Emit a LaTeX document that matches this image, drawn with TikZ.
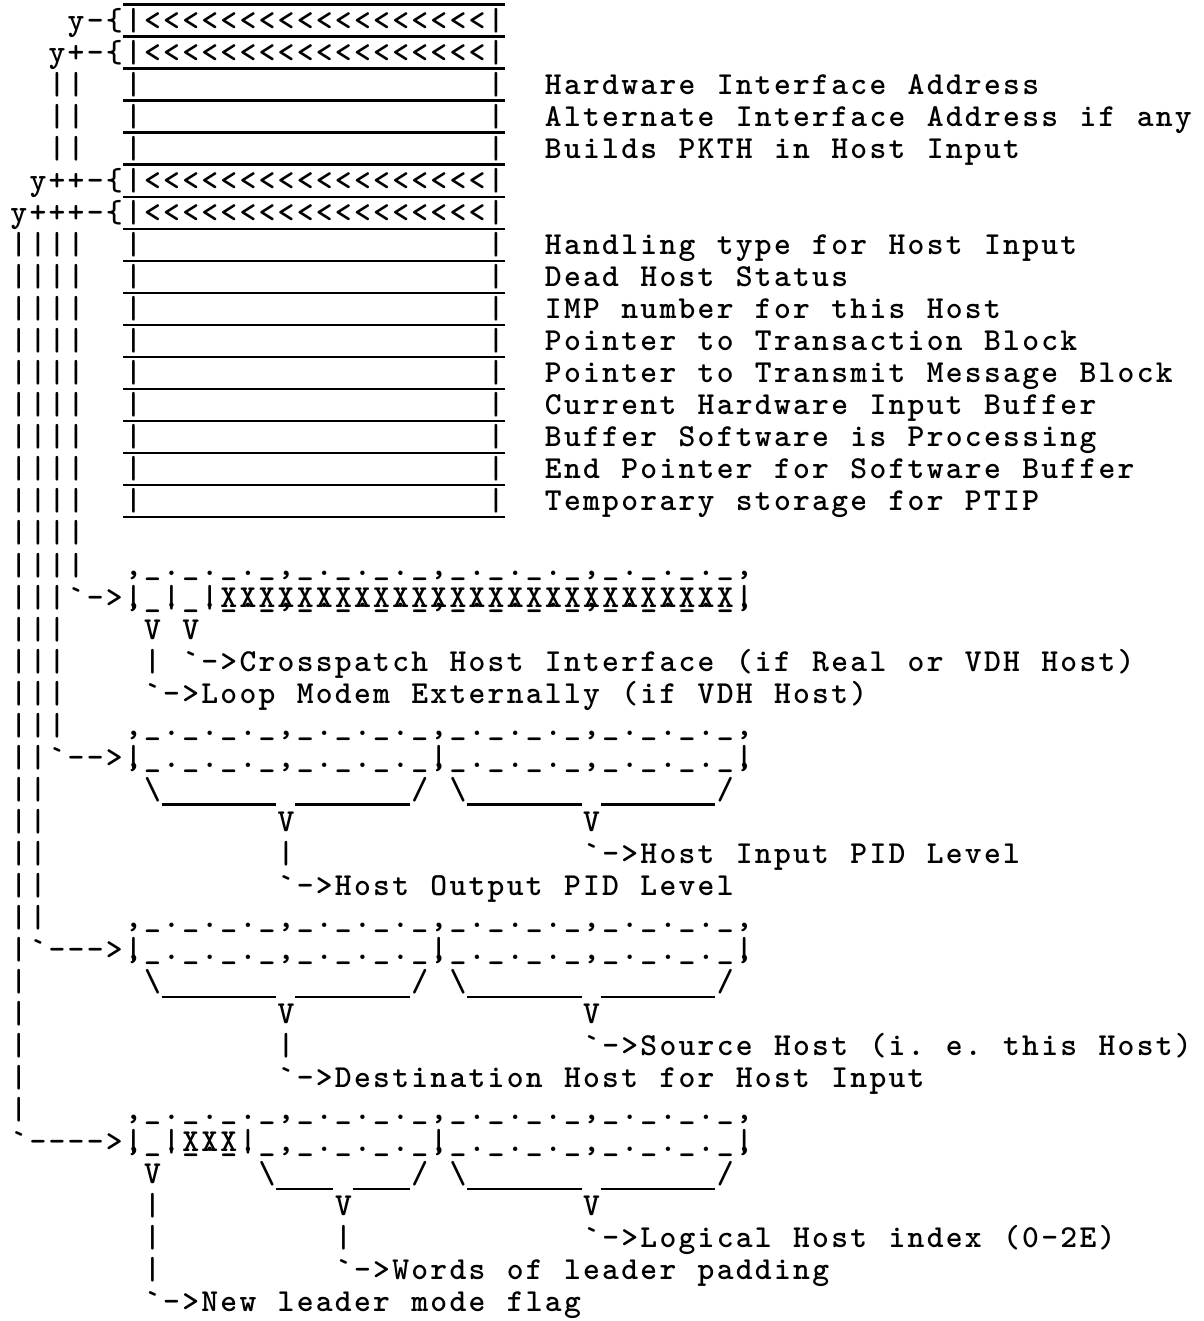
\documentclass[tikz,border=0pt]{standalone}
\usepackage{tikz}

\newlength\typedpitch
\setlength\typedpitch{9.545pt}
\newcommand\typefont{\fontsize{16}{18}\selectfont\ttfamily\bfseries}

% one character per typewriter cell; placeholders for overstruck cells
\ExplSyntaxOn
\cs_new_protected:Npn \typed_glyph:n #1
  {
    \str_case:nnF {#1}
      {
        { ! } { \textbraceleft }
        { ^ } { \textbackslash }
        { ? } { \rlap{|} , }
        { : } { \rlap{|} . }
        { = } { \rlap{\textunderscore} X }
        { ; } { \rlap{.} X }
        { " } { \rlap{,} X }
      }
      { #1 }
  }
\NewDocumentCommand \typed { m }
  {
    \str_map_inline:nn {#1}
      { \makebox [ \typedpitch ] [ c ] { \typed_glyph:n {##1} } }
  }
\ExplSyntaxOff

\begin{document}
\begin{tikzpicture}[x=\typedpitch,y=-16.015pt,
  typed/.style={anchor=base west,inner sep=0pt,xshift=-0.5\typedpitch,font=\typefont},
  underrule/.style={line width=1.2pt}]
  \path[fill=white] (0.033,-0.952) rectangle (63.1,40.29);
  \useasboundingbox (0.033,-0.952) rectangle (63.1,40.29);
  % register block
  \foreach \r in {-1,...,15} \draw[underrule] (6.5,\r+0.19) -- (26.5,\r+0.19);
  \foreach \r in {0,...,15} {
    \node[typed] (bl\r) at (7,\r) {\typed{|}};
    \node[typed] (br\r) at (26,\r) {\typed{|}};
  }
  \foreach \r in {0,1,5,6} \node[typed] (lt\r) at (8,\r) {\typed{<<<<<<<<<<<<<<<<<<}};
  \node[typed] (ym) at (4,0) {\typed{y-!}};
  \node[typed] (ypm) at (3,1) {\typed{y+-!}};
  \node[typed] (yppm) at (2,5) {\typed{y++-!}};
  \node[typed] (ypppm) at (1,6) {\typed{y+++-!}};
  \node[typed] (hwaddr) at (29,2) {\typed{Hardware Interface Address}};
  \node[typed] (altaddr) at (29,3) {\typed{Alternate Interface Address if any}};
  \node[typed] (pkth) at (29,4) {\typed{Builds PKTH in Host Input}};
  \node[typed] (htype) at (29,7) {\typed{Handling type for Host Input}};
  \node[typed] (dead) at (29,8) {\typed{Dead Host Status}};
  \node[typed] (imp) at (29,9) {\typed{IMP number for this Host}};
  \node[typed] (trblk) at (29,10) {\typed{Pointer to Transaction Block}};
  \node[typed] (tmblk) at (29,11) {\typed{Pointer to Transmit Message Block}};
  \node[typed] (curbuf) at (29,12) {\typed{Current Hardware Input Buffer}};
  \node[typed] (swbuf) at (29,13) {\typed{Buffer Software is Processing}};
  \node[typed] (endptr) at (29,14) {\typed{End Pointer for Software Buffer}};
  \node[typed] (ptip) at (29,15) {\typed{Temporary storage for PTIP}};
  % left leaders
  \foreach \r in {2,3,4} \node[typed] (lk\r) at (3,\r) {\typed{||}};
  \foreach \r in {7,...,17} \node[typed] (lk\r) at (1,\r) {\typed{||||}};
  \node[typed] (lk18) at (1,18) {\typed{|||`->}};
  \foreach \r in {19,...,22} \node[typed] (lk\r) at (1,\r) {\typed{|||}};
  \node[typed] (lk23) at (1,23) {\typed{||`-->}};
  \foreach \r in {24,...,28} \node[typed] (lk\r) at (1,\r) {\typed{||}};
  \node[typed] (lk29) at (1,29) {\typed{|`--->}};
  \foreach \r in {30,...,34} \node[typed] (lk\r) at (1,\r) {\typed{|}};
  \node[typed] (lk35) at (1,35) {\typed{`---->}};
  % bit words
  \foreach \r/\n in {17/1,22/2,28/3,34/4}
    \node[typed] (fa\n) at (7,\r) {\typed{,_._._._,_._._._,_._._._,_._._._,}};
  \node[typed] (fb1) at (7,18) {\typed{?_:_:=;="=;=;=;="=;=;=;="=;=;=;=?}};
  \node[typed] (fb2) at (7,23) {\typed{?_._._._,_._._._?_._._._,_._._._?}};
  \node[typed] (fb3) at (7,29) {\typed{?_._._._,_._._._?_._._._,_._._._?}};
  \node[typed] (fb4) at (7,35) {\typed{?_:=;=:_,_._._._?_._._._,_._._._?}};
  \foreach \r/\n in {24/2,30/3} {
    \node[typed] (bsa\n) at (8,\r) {\typed{^}};
    \node[typed] (slb\n) at (22,\r) {\typed{/ ^}};
    \node[typed] (slc\n) at (38,\r) {\typed{/}};
    \draw[underrule] (8.5,\r+0.17) -- (14.5,\r+0.17) (15.5,\r+0.17) -- (21.5,\r+0.17)
      (24.5,\r+0.17) -- (30.5,\r+0.17) (31.5,\r+0.17) -- (37.5,\r+0.17);
    \node[typed] (va\n) at (15,\r+1) {\typed{V}};
    \node[typed] (vb\n) at (31,\r+1) {\typed{V}};
    \node[typed] (ba\n) at (15,\r+2) {\typed{|}};
  }
  \node[typed] (bsa4) at (14,36) {\typed{^}};
  \node[typed] (slb4) at (22,36) {\typed{/ ^}};
  \node[typed] (slc4) at (38,36) {\typed{/}};
  \draw[underrule] (14.5,36.17) -- (17.5,36.17) (18.5,36.17) -- (21.5,36.17)
    (24.5,36.17) -- (30.5,36.17) (31.5,36.17) -- (37.5,36.17);
  % field notes
  \node[typed] (v1) at (8,19) {\typed{V V}};
  \node[typed] (xpatch) at (8,20) {\typed{| `->Crosspatch Host Interface (if Real or VDH Host)}};
  \node[typed] (loop) at (8,21) {\typed{`->Loop Modem Externally (if VDH Host)}};
  \node[typed] (hinpid) at (31,26) {\typed{`->Host Input PID Level}};
  \node[typed] (houtpid) at (15,27) {\typed{`->Host Output PID Level}};
  \node[typed] (src) at (31,32) {\typed{`->Source Host (i. e. this Host)}};
  \node[typed] (dst) at (15,33) {\typed{`->Destination Host for Host Input}};
  \node[typed] (v4a) at (8,36) {\typed{V}};
  \node[typed] (v4b) at (18,37) {\typed{V}};
  \node[typed] (v4c) at (31,37) {\typed{V}};
  \foreach \r in {37,38,39} \node[typed] (bn\r) at (8,\r) {\typed{|}};
  \node[typed] (bw38) at (18,38) {\typed{|}};
  \node[typed] (lhi) at (31,38) {\typed{`->Logical Host index (0-2E)}};
  \node[typed] (pad) at (18,39) {\typed{`->Words of leader padding}};
  \node[typed] (nlm) at (8,40) {\typed{`->New leader mode flag}};
\end{tikzpicture}
\end{document}
